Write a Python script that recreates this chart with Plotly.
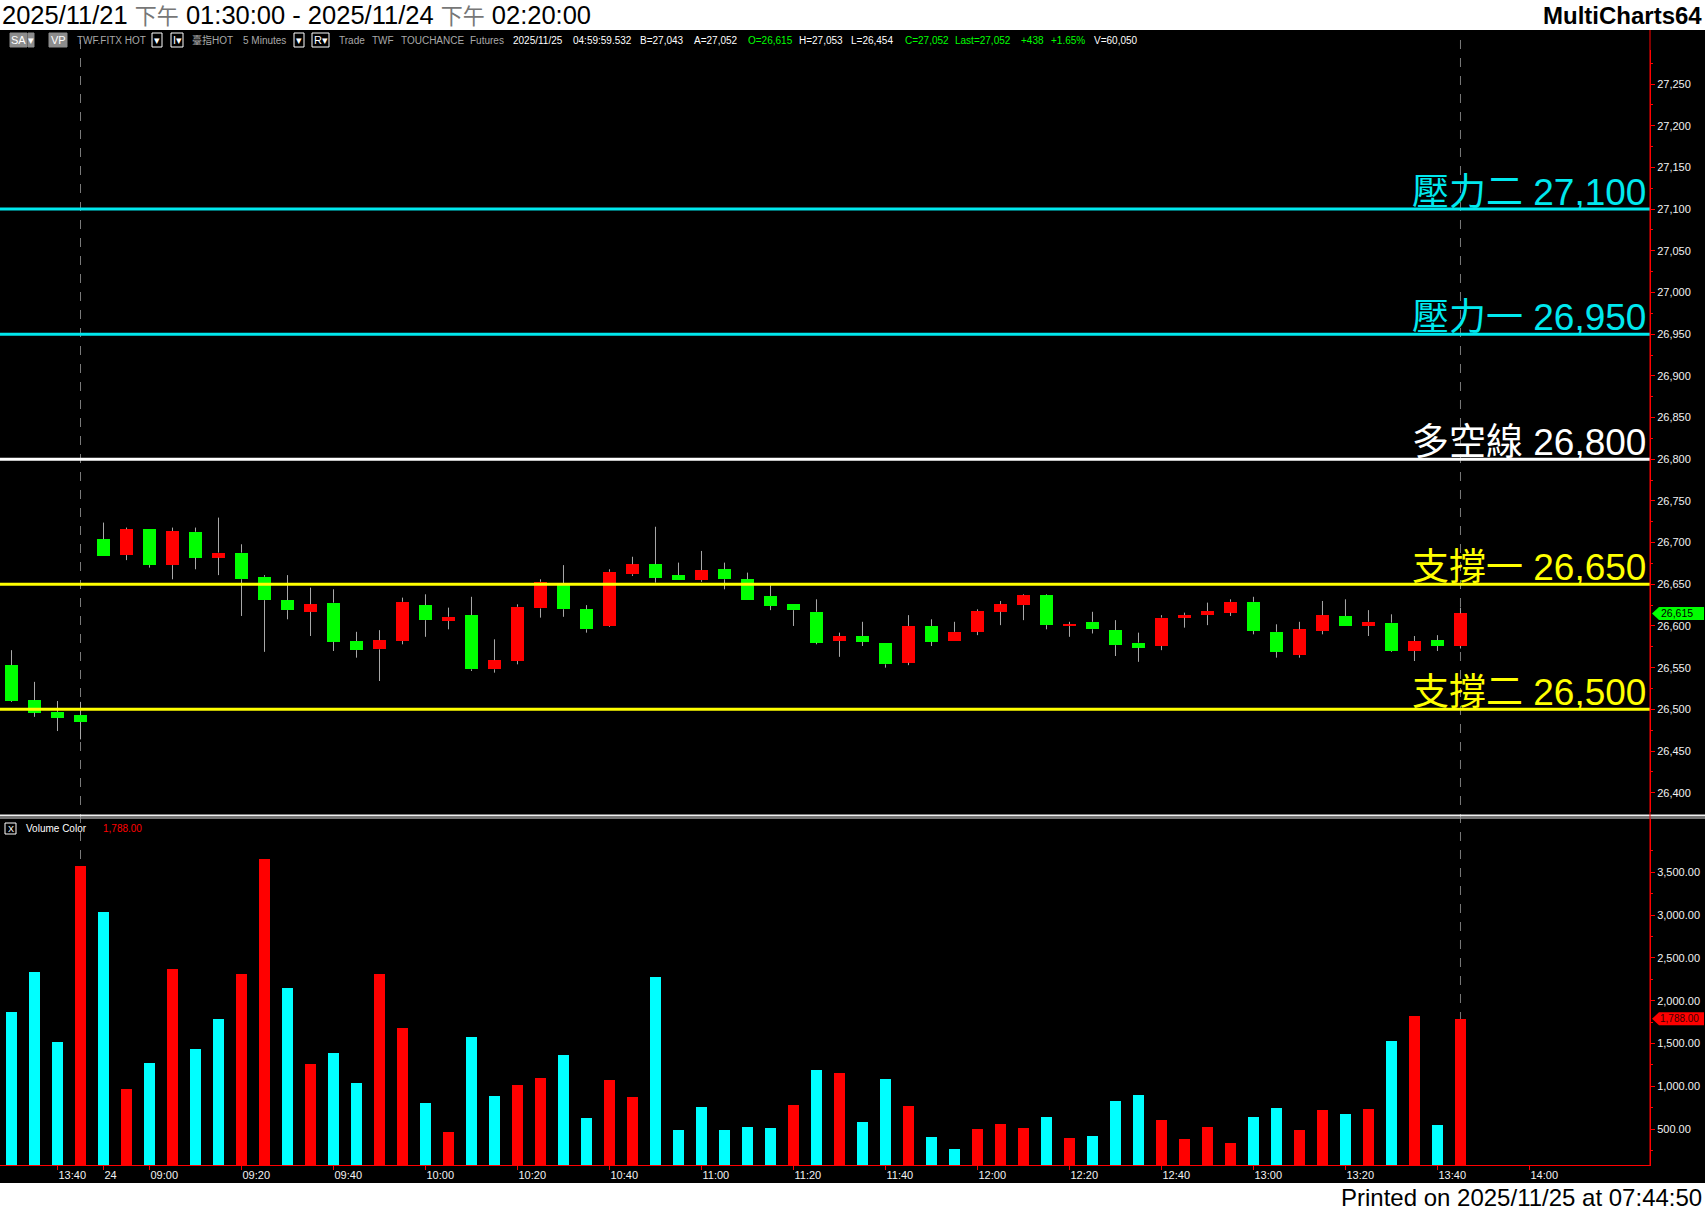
import plotly.graph_objects as go

W, H = 1705, 1211

# ---------------- data ----------------
bar_index = list(range(64))
open_ = [26553, 26511, 26497, 26493, 26704, 26685, 26716, 26673, 26713, 26682,
         26688, 26659, 26631, 26617, 26628, 26582, 26572, 26582, 26625, 26606,
         26613, 26548, 26558, 26621, 26651, 26620, 26600, 26662, 26674, 26661,
         26655, 26668, 26656, 26636, 26626, 26617, 26582, 26588, 26580, 26556,
         26600, 26582, 26593, 26617, 26625, 26637, 26600, 26605, 26595, 26580,
         26576, 26610, 26613, 26616, 26629, 26593, 26565, 26594, 26612, 26600,
         26604, 26570, 26583, 26576]
high = [26571, 26533, 26510, 26509, 26724, 26718, 26716, 26718, 26718, 26730,
        26698, 26661, 26661, 26646, 26644, 26593, 26595, 26634, 26638, 26622,
        26635, 26584, 26626, 26656, 26673, 26625, 26668, 26683, 26719, 26676,
        26690, 26676, 26664, 26649, 26626, 26632, 26592, 26605, 26580, 26613,
        26608, 26605, 26620, 26630, 26638, 26638, 26605, 26617, 26607, 26592,
        26613, 26616, 26628, 26632, 26635, 26602, 26605, 26630, 26632, 26619,
        26614, 26588, 26589, 26622]
low = [26509, 26491, 26474, 26464, 26684, 26679, 26670, 26656, 26668, 26661,
       26612, 26569, 26608, 26588, 26570, 26562, 26534, 26578, 26587, 26596,
       26546, 26544, 26554, 26610, 26611, 26592, 26599, 26660, 26652, 26655,
       26653, 26644, 26631, 26619, 26600, 26578, 26563, 26576, 26550, 26553,
       26576, 26582, 26589, 26601, 26607, 26596, 26587, 26591, 26564, 26557,
       26571, 26598, 26601, 26612, 26590, 26562, 26562, 26590, 26600, 26588,
       26569, 26558, 26570, 26573]
close = [26510, 26496, 26490, 26485, 26684, 26716, 26673, 26714, 26682, 26688,
         26656, 26631, 26619, 26626, 26581, 26571, 26583, 26629, 26607, 26611,
         26548, 26559, 26623, 26653, 26620, 26596, 26665, 26674, 26658, 26655,
         26667, 26656, 26631, 26624, 26619, 26580, 26588, 26581, 26554, 26600,
         26581, 26593, 26618, 26626, 26637, 26601, 26602, 26596, 26577, 26574,
         26610, 26613, 26618, 26629, 26594, 26569, 26596, 26613, 26600, 26605,
         26570, 26582, 26576, 26615]
volume = [1869, 2336, 1518, 3574, 3036, 969, 1273, 2371, 1436, 1787,
          2312, 3655, 2149, 1261, 1390, 1039, 2312, 1682, 806, 467,
          1577, 887, 1016, 1098, 1366, 631, 1074, 876, 2277, 490,
          759, 490, 525, 514, 782, 1191, 1156, 584, 1086, 771,
          409, 268, 502, 560, 514, 642, 397, 420, 829, 899,
          607, 385, 525, 339, 642, 747, 490, 724, 677, 736,
          1530, 1822, 549, 1788]
volume_color_code = ["c", "c", "c", "r", "c", "r", "c", "r", "c", "c",
                     "r", "r", "c", "r", "c", "c", "r", "r", "c", "r",
                     "c", "c", "r", "r", "c", "c", "r", "r", "c", "c",
                     "c", "c", "c", "c", "r", "c", "r", "c", "c", "r",
                     "c", "c", "r", "r", "r", "c", "r", "c", "c", "c",
                     "r", "r", "r", "r", "c", "c", "r", "r", "c", "r",
                     "c", "r", "c", "r"]

xtick_pos = [2, 4, 6, 10, 14, 18, 22, 26, 30, 34, 38, 42, 46, 50, 54, 58, 62, 66]
xtick_text = ["13:40", "24", "09:00", "09:20", "09:40", "10:00", "10:20", "10:40",
              "11:00", "11:20", "11:40", "12:00", "12:20", "12:40", "13:00",
              "13:20", "13:40", "14:00"]
price_ticks = [26400, 26450, 26500, 26550, 26600, 26650, 26700, 26750, 26800,
               26850, 26900, 26950, 27000, 27050, 27100, 27150, 27200, 27250]
volume_ticks = [500, 1000, 1500, 2000, 2500, 3000, 3500]

level_values = [27100, 26950, 26800, 26650, 26500]
level_names = ["壓力二", "壓力一", "多空線", "支撐一", "支撐二"]
level_colors = ["#00E8EE", "#00E8EE", "#FFFFFF", "#FFFF00", "#FFFF00"]

session_marks = [3, 63]
last_price = 26615
last_volume = 1788

# ---------------- geometry (pixels) ----------------
X_RIGHT = 1650
PRICE_TOP, PRICE_BOT = 50, 812
VOL_TOP, VOL_BOT = 819, 1165
BLACK_TOP, BLACK_BOT = 30, 1183
PRICE_RANGE = [26376.9, 27290.8]
VOL_RANGE = [81, 4122]
X_RANGE = [-0.5, 71.24]


def px(x):
    return x / W


def py(y):
    return 1 - y / H


def price_px(v):
    return PRICE_BOT - (v - PRICE_RANGE[0]) / (PRICE_RANGE[1] - PRICE_RANGE[0]) * (PRICE_BOT - PRICE_TOP)


def vol_px(v):
    return VOL_BOT - (v - VOL_RANGE[0]) / (VOL_RANGE[1] - VOL_RANGE[0]) * (VOL_BOT - VOL_TOP)


fig = go.Figure()

# wicks (upper and lower parts so they don't cross bodies)
wx, wy = [], []
for i, o, h, l, c in zip(bar_index, open_, high, low, close):
    top, bot = max(o, c), min(o, c)
    if h > top:
        wx += [i, i, None]
        wy += [top, h, None]
    if l < bot:
        wx += [i, i, None]
        wy += [bot, l, None]
fig.add_trace(go.Scatter(x=wx, y=wy, mode="lines", line=dict(color="#A8A8A8", width=1),
                         hoverinfo="skip", showlegend=False, xaxis="x", yaxis="y"))

body_base = [min(o, c) for o, c in zip(open_, close)]
body_h = [abs(c - o) for o, c in zip(open_, close)]
body_col = ["#FF0000" if c > o else "#00FF00" for o, c in zip(open_, close)]
fig.add_trace(go.Bar(x=bar_index, y=body_h, base=body_base, width=0.56,
                     marker=dict(color=body_col, line=dict(width=0)),
                     showlegend=False, xaxis="x", yaxis="y", hoverinfo="skip"))

vol_col = ["#00FFFF" if k == "c" else "#FF0000" for k in volume_color_code]
fig.add_trace(go.Bar(x=bar_index, y=volume, width=0.47,
                     marker=dict(color=vol_col, line=dict(width=0)),
                     showlegend=False, xaxis="x", yaxis="y2", hoverinfo="skip"))

shapes = []
# black chart background
shapes.append(dict(type="rect", xref="paper", yref="paper", x0=0, x1=1,
                   y0=py(BLACK_BOT), y1=py(BLACK_TOP), fillcolor="black",
                   line=dict(width=0), layer="below"))
# session dashed lines
for m in session_marks:
    shapes.append(dict(type="line", xref="x", yref="paper", x0=m, x1=m,
                       y0=py(VOL_BOT), y1=py(BLACK_TOP + 4),
                       line=dict(color="#7A7A7A", width=1, dash="dash"), layer="below"))
# level lines
for v, col in zip(level_values, level_colors):
    shapes.append(dict(type="line", xref="paper", yref="y", x0=0, x1=px(X_RIGHT),
                       y0=v, y1=v, line=dict(color=col, width=3)))
# pane separator
shapes.append(dict(type="line", xref="paper", yref="paper", x0=0, x1=1,
                   y0=py(815.5), y1=py(815.5), line=dict(color="#F0F0F0", width=2)))
shapes.append(dict(type="line", xref="paper", yref="paper", x0=0, x1=1,
                   y0=py(818), y1=py(818), line=dict(color="#9A9A9A", width=1.5)))
# red right axis line through the whole chart
shapes.append(dict(type="line", xref="paper", yref="paper", x0=px(X_RIGHT), x1=px(X_RIGHT),
                   y0=py(VOL_BOT), y1=py(BLACK_TOP), line=dict(color="red", width=1)))


# last-value tags
def tag(ypix, fill):
    return dict(type="path", xref="paper", yref="paper",
                path=(f"M {px(1652)},{py(ypix)} L {px(1659)},{py(ypix - 6.5)} "
                      f"L {px(1704)},{py(ypix - 6.5)} L {px(1704)},{py(ypix + 6.5)} "
                      f"L {px(1659)},{py(ypix + 6.5)} Z"),
                fillcolor=fill, line=dict(width=0))


shapes.append(tag(price_px(last_price), "#00FF00"))
shapes.append(tag(vol_px(last_volume), "#FF0000"))

annotations = []
# level labels
for v, name, col in zip(level_values, level_names, level_colors):
    annotations.append(dict(xref="paper", yref="y", x=px(X_RIGHT - 2), y=v,
                            xanchor="right", yanchor="bottom", yshift=-6,
                            text=f"{name} {v:,}", showarrow=False,
                            font=dict(family="Arial, Noto Sans CJK TC", size=37, color=col)))

annotations.append(dict(xref="paper", yref="paper", x=px(1659), y=py(price_px(last_price)),
                        xanchor="left", yanchor="middle", text=f"{last_price:,}", showarrow=False,
                        font=dict(family="Arial", size=10.5, color="black")))
annotations.append(dict(xref="paper", yref="paper", x=px(1658), y=py(vol_px(last_volume)),
                        xanchor="left", yanchor="middle", text=f"{last_volume:,.2f}", showarrow=False,
                        font=dict(family="Arial", size=10, color="#3A0000")))

# title bar
annotations.append(dict(xref="paper", yref="paper", x=0, y=py(15), xanchor="left", yanchor="middle",
                        showarrow=False,
                        text=("2025/11/21 <span style='color:#777777;font-size:22px'>下午</span> 01:30:00 - "
                              "2025/11/24 <span style='color:#777777;font-size:22px'>下午</span> 02:20:00"),
                        font=dict(family="Arial, Noto Sans CJK TC", size=25.5, color="black")))
annotations.append(dict(xref="paper", yref="paper", x=px(1704), y=py(15), xanchor="right", yanchor="middle",
                        showarrow=False, text="<b>MultiCharts64</b>",
                        font=dict(family="Arial", size=24, color="black")))
annotations.append(dict(xref="paper", yref="paper", x=px(1704), y=py(1197), xanchor="right",
                        yanchor="middle", showarrow=False, text="Printed on 2025/11/25 at 07:44:50",
                        font=dict(family="Arial", size=24, color="black")))

# header info strip
GRAY = "#A9A9A9"
GREEN = "#00FF00"
header_items = [
    ("TWF.FITX HOT", 75, GRAY), ("臺指HOT", 190, GRAY), ("5 Minutes", 241, GRAY),
    ("Trade", 337, GRAY), ("TWF", 370, GRAY), ("TOUCHANCE", 399, GRAY), ("Futures", 468, GRAY),
    ("2025/11/25", 511, "white"), ("04:59:59.532", 571, "white"), ("B=27,043", 638, "white"),
    ("A=27,052", 692, "white"), ("O=26,615", 746, GREEN), ("H=27,053", 797, "white"),
    ("L=26,454", 849, "white"), ("C=27,052", 903, GREEN), ("Last=27,052", 953, GREEN),
    ("+438", 1019, GREEN), ("+1.65%", 1049, GREEN), ("V=60,050", 1092, "white"),
]
for txt, x0, col in header_items:
    annotations.append(dict(xref="paper", yref="paper", x=px(x0), y=py(40), xanchor="left",
                            yanchor="middle", showarrow=False, text=txt,
                            font=dict(family="Arial, Noto Sans CJK TC", size=10, color=col)))

# header buttons
buttons = [(10, 27, "SA", "#8C8C8C", None), (28, 34, "▾", "#8C8C8C", None),
           (49, 67, "VP", "#8C8C8C", None), (152, 162, "▾", "black", "white"),
           (171, 183, "I▾", "black", "white"), (294, 304, "▾", "black", "white"),
           (312, 329, "R▾", "black", "white")]
for x0, x1, label, fill, border in buttons:
    shapes.append(dict(type="rect", xref="paper", yref="paper", x0=px(x0), x1=px(x1),
                       y0=py(47), y1=py(33), fillcolor=fill,
                       line=dict(color=border if border else fill, width=1)))
    annotations.append(dict(xref="paper", yref="paper", x=px((x0 + x1) / 2), y=py(40),
                            xanchor="center", yanchor="middle", showarrow=False, text=label,
                            font=dict(family="Arial", size=11, color="white")))

# volume legend
shapes.append(dict(type="rect", xref="paper", yref="paper", x0=px(5), x1=px(16),
                   y0=py(834), y1=py(823), line=dict(color="white", width=1)))
annotations.append(dict(xref="paper", yref="paper", x=px(10.5), y=py(828.5), xanchor="center",
                        yanchor="middle", showarrow=False, text="X",
                        font=dict(family="Arial", size=9, color="white")))
annotations.append(dict(xref="paper", yref="paper", x=px(24), y=py(828.5), xanchor="left",
                        yanchor="middle", showarrow=False, text="Volume Color",
                        font=dict(family="Arial", size=10, color="white")))
annotations.append(dict(xref="paper", yref="paper", x=px(101), y=py(828.5), xanchor="left",
                        yanchor="middle", showarrow=False, text=f"{last_volume:,.2f}",
                        font=dict(family="Arial", size=10, color="#FF0000")))

axis_font = dict(family="Arial", size=11, color="#F2F2F2")
fig.update_layout(
    width=W, height=H, margin=dict(l=0, r=0, t=0, b=0),
    paper_bgcolor="white", plot_bgcolor="black", showlegend=False,
    barmode="overlay", bargap=0,
    xaxis=dict(domain=[0, px(X_RIGHT)], range=X_RANGE, anchor="y2", showgrid=False,
               zeroline=False, showline=True, linecolor="red", linewidth=1,
               ticks="outside", ticklen=4, tickcolor="red", tickmode="array",
               tickvals=xtick_pos, ticktext=xtick_text, tickfont=axis_font,
               ticklabelposition="outside right", fixedrange=True),
    yaxis=dict(domain=[py(PRICE_BOT), py(PRICE_TOP)], range=PRICE_RANGE, side="right",
               anchor="x", showgrid=False, zeroline=False, showline=True, linecolor="red",
               ticks="outside", ticklen=4, tickcolor="red", tickmode="array",
               tickvals=price_ticks, tickformat=",d", tickfont=axis_font,
               minor=dict(tickvals=[t + 25 for t in price_ticks], ticks="outside",
                          ticklen=2, tickcolor="red"), fixedrange=True),
    yaxis2=dict(domain=[py(VOL_BOT), py(VOL_TOP)], range=VOL_RANGE, side="right",
                anchor="x", showgrid=False, zeroline=False, showline=True, linecolor="red",
                ticks="outside", ticklen=4, tickcolor="red", tickmode="array",
                tickvals=volume_ticks, tickformat=",.2f", tickfont=axis_font,
                minor=dict(tickvals=[t + 250 for t in volume_ticks] + [250], ticks="outside",
                           ticklen=2, tickcolor="red"), fixedrange=True),
    shapes=shapes, annotations=annotations,
)

fig.write_html("out.html", config={"displayModeBar": False},
               post_script="document.body.style.margin='0';document.body.style.overflow='hidden';")
